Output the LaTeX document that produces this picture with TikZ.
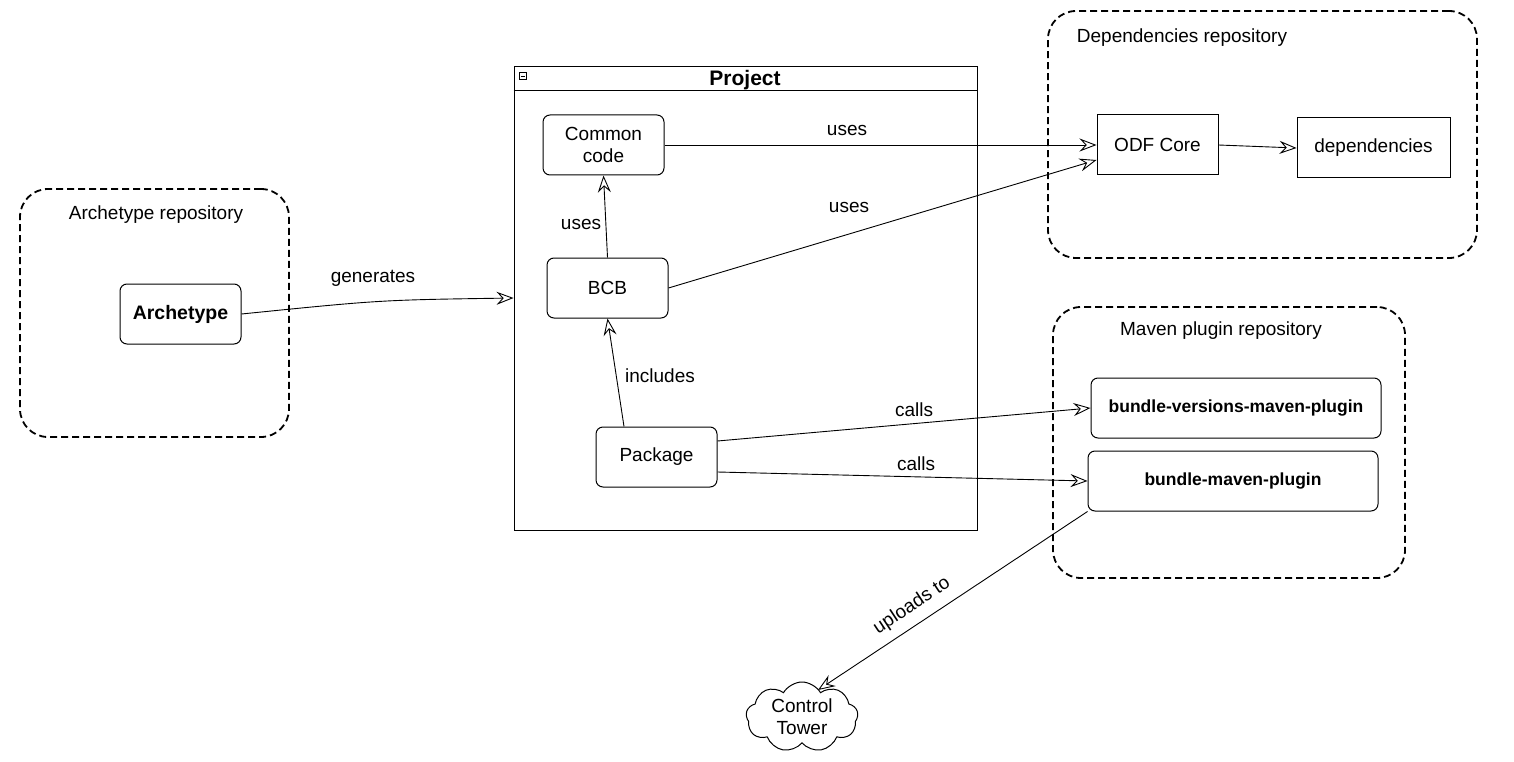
\documentclass[tikz,border=0pt]{standalone}
\usepackage{fontspec}
\setmainfont{Liberation Sans}
\usetikzlibrary{arrows.meta,shapes.symbols,calc}
\begin{document}
\begin{tikzpicture}[x=1pt,y=-1pt,
  every node/.style={font=\fontsize{19}{22}\selectfont},
  boldtxt/.style={font=\bfseries\fontsize{17.5}{21}\selectfont},
  repo/.style={draw,line width=1.8pt,dash pattern=on 7pt off 4pt,rounded corners=28pt,inner sep=0pt},
  rbox/.style={draw,line width=1pt,rounded corners=7pt,minimum height=60pt,align=center,inner sep=2pt},
  sbox/.style={draw,line width=1pt,minimum height=60pt,align=center,inner sep=2pt},
  lbl/.style={font=\fontsize{19}{22}\selectfont,inner sep=1pt},
  conn/.style={line width=0.9pt,-{Stealth[open,length=17pt,width=13pt,inset=6pt]}}
]
\useasboundingbox[fill=white] (0,0) rectangle (1514,762);
% containers
\node[repo,minimum width=269pt,minimum height=248pt] (archrepo) at (154.5,313) {};
\node[lbl] (archrepolbl) at (156,215) {Archetype repository};
\node[repo,minimum width=429pt,minimum height=247pt] (deprepo) at (1262.5,134.5) {};
\node[lbl] (deprepolbl) at (1182,38) {Dependencies repository};
\node[repo,minimum width=352pt,minimum height=271pt] (mvnrepo) at (1229,442.5) {};
\node[lbl] (mvnrepolbl) at (1221,331) {Maven plugin repository};
\node[draw,line width=1pt,minimum width=463pt,minimum height=463pt,inner sep=0pt] (proj) at (745.5,298.5) {};
\draw[line width=1pt] ($(proj.north west)+(0,24)$) -- ($(proj.north east)+(0,24)$);
\node[font=\bfseries\fontsize{21}{24}\selectfont,inner sep=1pt] (projlbl) at (745,80) {Project};
\node[draw,line width=0.5pt,minimum width=7pt,minimum height=7pt,inner sep=0pt] (icon) at (523,76) {};
\draw[line width=0.5pt] ($(icon.west)+(1.5,0)$) -- ($(icon.east)+(-1.5,0)$);
% nodes
\node[rbox,minimum width=121pt,font=\bfseries\fontsize{19.5}{23}\selectfont] (arch) at (180.5,314) {Archetype};
\node[rbox,minimum width=121pt] (common) at (603.5,145) {Common\\code};
\node[rbox,minimum width=121pt] (bcb) at (607.5,288) {BCB};
\node[rbox,minimum width=121pt] (pkg) at (656.5,457) {Package};
\node[sbox,minimum width=121pt] (odf) at (1157.5,145) {ODF Core};
\node[sbox,minimum width=153pt] (deps) at (1373.5,148) {dependencies};
\node[rbox,minimum width=290pt,boldtxt] (bvmp) at (1236,408) {bundle-versions-maven-plugin};
\node[rbox,minimum width=290pt,boldtxt] (bmp) at (1233,481) {bundle-maven-plugin};
\node[cloud,draw,line width=1pt,cloud puffs=9,cloud puff arc=120,aspect=1.6,minimum width=112pt,minimum height=70pt,inner sep=0pt,align=center] (tower) at (802,717) {Control\\Tower};
% connector endpoints
\coordinate (projin) at (proj.west |- 0,298);
\coordinate (odfin2) at ($(odf.west)+(0,15)$);
\coordinate (pkgout1) at ($(pkg.east)+(0,-16)$);
\coordinate (pkgout2) at ($(pkg.east)+(0,15)$);
\coordinate (bmpout) at (bmp.south west);
\coordinate (towerin) at (818,690);
% connectors
\draw[conn] (arch.east) .. controls (380,300) .. (projin);
\node[lbl] (genlbl) at (373,278) {generates};
\draw[conn] (common.east) -- (odf.west);
\node[lbl] (uses1) at (847,130) {uses};
\draw[conn] (bcb.east) -- (odfin2);
\node[lbl] (uses2) at (849,207) {uses};
\draw[conn] (bcb.north) -- (common.south);
\node[lbl] (uses3) at (581,224) {uses};
\draw[conn] (pkg.north -| 624,0) -- (bcb.south);
\node[lbl] (incl) at (660,376) {includes};
\draw[conn] (pkgout1) -- (bvmp.west);
\node[lbl] (calls1) at (914,410) {calls};
\draw[conn] (pkgout2) -- (bmp.west);
\node[lbl] (calls2) at (916,464) {calls};
\draw[conn] (odf.east) -- (deps.west);
\draw[conn] (bmpout) -- (towerin);
\node[lbl,rotate=33.5] (upl) at (912,606) {uploads to};
\end{tikzpicture}
\end{document}
